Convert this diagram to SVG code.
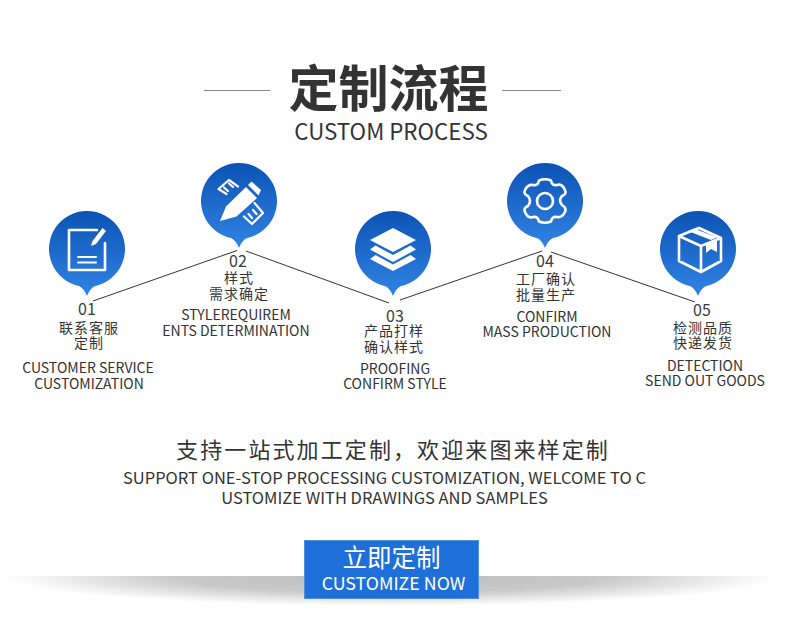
<svg xmlns="http://www.w3.org/2000/svg" width="800" height="642" viewBox="0 0 800 642">
<style>
text{font-family:"Noto Sans CJK SC","Noto Sans",sans-serif;text-anchor:middle;fill:#333}
.n{font-size:16px;fill:#3a3a3a}
.c{font-size:14px;letter-spacing:1px;fill:#333}
.e{font-size:14px;fill:#333}
.i{fill:none;stroke:#fff;stroke-width:2.6;stroke-linejoin:round;stroke-linecap:round}
.f{fill:#fff}
.l{stroke:#333;stroke-width:1;fill:none}
</style>
<defs>
<linearGradient id="g" x1="0" y1="0" x2="0" y2="1"><stop offset="0" stop-color="#0c53b4"/><stop offset="1" stop-color="#3184e4"/></linearGradient>
<radialGradient id="s" cx="0.5" cy="0" r="0.5"><stop offset="0" stop-color="#bdbdbd"/><stop offset="0.55" stop-color="#c8c8c8"/><stop offset="1" stop-color="#fff"/></radialGradient>
<path id="pin" d="M-7.500 37.200A38 38 0 1 1 7.500 37.200Q3 39.500 0 47Q-3 39.500 -7.500 37.200Z" fill="url(#g)"/>
</defs>
<rect width="800" height="642" fill="#fff"/>
<g id="title">
<line x1="204" y1="90.500" x2="270" y2="90.500" stroke="#8a8a8a"/>
<line x1="502" y1="90.500" x2="561" y2="90.500" stroke="#8a8a8a"/>
<text x="388.500" y="107" style="font-size:50px;font-weight:700;fill:#333">定制流程</text>
<text x="391" y="140" style="font-size:22.300px;fill:#333">CUSTOM PROCESS</text>
</g>
<g id="connectors">
<path class="l" d="M93 301L237 250.500"/>
<path class="l" d="M246 251L389 303"/>
<path class="l" d="M400 300L542 251"/>
<path class="l" d="M551 252L695 302"/>
</g>
<g id="node1">
<use href="#pin" x="87" y="249"/>
<path class="i" d="M97 230H69V270H105V243"/>
<path class="i" d="M78 257H96M78 262.500H96" style="stroke-width:2"/>
<path class="f" d="M102.500 228L106 231L96 244L91 246L92.500 241Z"/>
<text class="n" x="87" y="315">01</text>
<text class="c" x="89" y="333">联系客服</text>
<text class="c" x="89" y="348">定制</text>
<text class="e" x="88" y="373">CUSTOMER SERVICE</text>
<text class="e" x="89" y="389">CUSTOMIZATION</text>
</g>
<g id="node2">
<use href="#pin" x="239" y="201"/>
<path class="f" d="M220 221L226 206.500L246 187L257 198L236.500 216.500Z"/>
<path class="f" d="M248 185L251.500 181.500L261 190L258.500 195.500Z"/>
<path class="i" d="M226.500 194L218.500 189L229 180L238 186.500M224 187.500L228 191M229 183.500L233 187" style="stroke-width:2.200"/>
<path class="i" d="M254.500 203L263 213L252 224L244 216.500M248.500 214L252 218M253 210L256.500 214" style="stroke-width:2.200"/>
<text class="n" x="238" y="267">02</text>
<text class="c" x="239" y="283">样式</text>
<text class="c" x="239" y="299">需求确定</text>
<text class="e" x="236" y="320">STYLEREQUIREM</text>
<text class="e" x="236" y="336">ENTS DETERMINATION</text>
</g>
<g id="node3">
<use href="#pin" x="393" y="249"/>
<path class="f" d="M393 228L416 240L393 252L370 240Z"/>
<path class="f" d="M375.500 245.500L393 255L410.500 245.500L416 249.500L393 262L370 249.500Z"/>
<path class="f" d="M375.500 255L393 264.500L410.500 255L416 259L393 271L370 259Z"/>
<text class="n" x="395" y="322">03</text>
<text class="c" x="394" y="336">产品打样</text>
<text class="c" x="394" y="352">确认样式</text>
<text class="e" x="395" y="374">PROOFING</text>
<text class="e" x="395" y="389">CONFIRM STYLE</text>
</g>
<g id="node4">
<use href="#pin" x="545" y="201"/>
<path class="i" d="M539 180.500Q545 178 551 180.500Q552 186 557 185Q562 183 565 190Q567 194 562 196Q558 200 562 205Q567 208 565 212Q562 218 557 217Q552 216 551 221.500Q545 224 539 221.500Q538 216 533 217Q528 219 525 212Q523 208 528 206Q532 201 528 196Q523 194 525 190Q528 184 533 185Q538 186 539 180.500Z"/>
<circle class="i" cx="545" cy="201" r="8"/>
<text class="n" x="545" y="267">04</text>
<text class="c" x="546" y="284">工厂确认</text>
<text class="c" x="546" y="300">批量生产</text>
<text class="e" x="547" y="322">CONFIRM</text>
<text class="e" x="547" y="337">MASS PRODUCTION</text>
</g>
<g id="node5">
<use href="#pin" x="698" y="249"/>
<path class="i" d="M699 228L679 236V261L701 272L721 261V238ZM679 236L701 246L721 238M701 246V272"/>
<path class="f" d="M694 228.500L717 237.500L711 240L688 231Z"/>
<path class="f" d="M706 243L717 238.500V252L711 249L706 253Z"/>
<text class="n" x="702" y="316">05</text>
<text class="c" x="703" y="333">检测品质</text>
<text class="c" x="703" y="348">快递发货</text>
<text class="e" x="705" y="371">DETECTION</text>
<text class="e" x="705" y="386">SEND OUT GOODS</text>
</g>
<g id="summary">
<text x="393" y="458" style="font-size:22px;letter-spacing:2.100px;fill:#333">支持一站式加工定制，欢迎来图来样定制</text>
<text x="384.500" y="484" style="font-size:16.500px;fill:#333">SUPPORT ONE-STOP PROCESSING CUSTOMIZATION, WELCOME TO C</text>
<text x="384.500" y="504" style="font-size:16.500px;fill:#333">USTOMIZE WITH DRAWINGS AND SAMPLES</text>
</g>
<g id="button">
<rect x="5" y="576" width="773" height="60" fill="url(#s)"/>
<rect x="304.500" y="540.500" width="174" height="58" fill="#1f6fd8" stroke="#4d8ee0"/>
<text x="391.500" y="567" style="font-size:24.500px;fill:#fff">立即定制</text>
<text x="393.500" y="590" style="font-size:17.800px;fill:#fff">CUSTOMIZE NOW</text>
</g>
</svg>
